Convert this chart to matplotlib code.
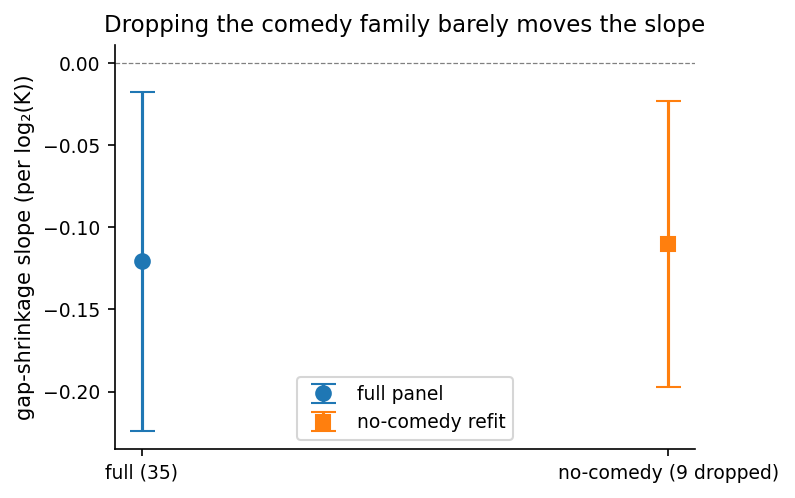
import matplotlib
matplotlib.use("Agg")
import matplotlib.pyplot as plt

categories = ["full (35)", "no-comedy (9 dropped)"]
labels = ["full panel", "no-comedy refit"]
estimates = [-0.1208, -0.1103]
ci_low = [-0.2238, -0.1970]
ci_high = [-0.0177, -0.0232]
colors = ["#1f77b4", "#ff7f0e"]
markers = ["o", "s"]

fig = plt.figure(figsize=(5.3, 3.32), dpi=150)
ax = fig.add_axes([0.145, 0.0984, 0.729, 0.812])

for i, (est, lo, hi) in enumerate(zip(estimates, ci_low, ci_high)):
    ax.errorbar([i], [est], yerr=[[est - lo], [hi - est]], fmt=markers[i],
                color=colors[i], capsize=6, elinewidth=1.5, markersize=7,
                label=labels[i])

ax.axhline(0, color="grey", linestyle="--", linewidth=0.6)
ax.set_xticks(range(len(categories)))
ax.set_xticklabels(categories)
ax.tick_params(labelsize=9)
ax.set_ylabel("gap-shrinkage slope (per log₂(K))", fontsize=10)
ax.set_title("Dropping the comedy family barely moves the slope", fontsize=11)
ax.spines["top"].set_visible(False)
ax.spines["right"].set_visible(False)
ax.legend(loc="lower center", fontsize=9)

fig.savefig("out.png", dpi=150)
